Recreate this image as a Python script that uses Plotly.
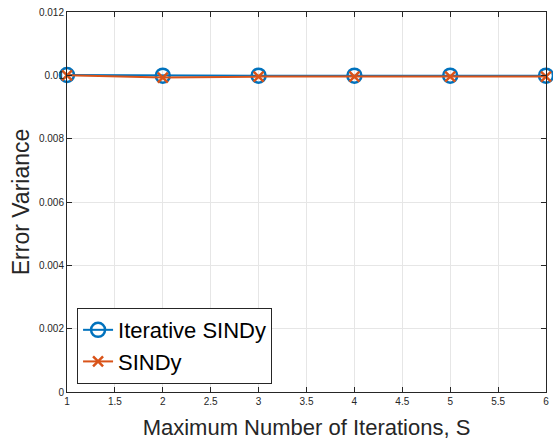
import plotly.graph_objects as go

iterations = [1, 2, 3, 4, 5, 6]
iterative_sindy = [0.01001, 0.00999, 0.00999, 0.00999, 0.00999, 0.00999]
sindy = [0.01000, 0.00993, 0.00996, 0.00996, 0.00996, 0.00996]
y_ticks = [0, 0.002, 0.004, 0.006, 0.008, 0.01, 0.012]
y_labels = ["0", "0.002", "0.004", "0.006", "0.008", "0.01", "0.012"]
x_ticks = [1, 1.5, 2, 2.5, 3, 3.5, 4, 4.5, 5, 5.5, 6]

fig = go.Figure()
fig.add_trace(go.Scatter(
    x=iterations, y=iterative_sindy, name="Iterative SINDy", mode="lines+markers",
    line=dict(color="#0072BD", width=2),
    marker=dict(symbol="circle-open", size=14, line=dict(width=2.5, color="#0072BD")),
    cliponaxis=False,
))
fig.add_trace(go.Scatter(
    x=iterations, y=sindy, name="SINDy", mode="lines+markers",
    line=dict(color="#D95319", width=2),
    marker=dict(symbol="x-thin-open", size=10, line=dict(width=2.5, color="#D95319")),
    cliponaxis=False,
))

axis_common = dict(
    showline=True, linecolor="#262626", linewidth=1, mirror="ticks",
    ticks="inside", ticklen=5, tickcolor="#262626",
    showgrid=True, gridcolor="#E6E6E6", gridwidth=1, zeroline=False,
    ticklabeloverflow="allow",
    tickfont=dict(family="Liberation Sans, Arial", size=10, color="#262626"),
)
fig.update_xaxes(
    range=[1, 6], tickvals=x_ticks, ticktext=[f"{v:g}" for v in x_ticks],
    title=dict(text="Maximum Number of Iterations, S", standoff=13,
               font=dict(family="Liberation Sans, Arial", size=22, color="#262626")),
    **axis_common,
)
fig.update_yaxes(
    range=[0, 0.012], tickvals=y_ticks, ticktext=y_labels,
    title=dict(text="Error Variance", standoff=2,
               font=dict(family="Liberation Sans, Arial", size=23, color="#262626")),
    **axis_common,
)
fig.update_layout(
    width=553, height=441,
    margin=dict(l=67, r=4, t=12, b=49),
    paper_bgcolor="white", plot_bgcolor="white",
    legend=dict(
        x=0.021, y=0.021, xanchor="left", yanchor="bottom",
        bgcolor="white", bordercolor="#262626", borderwidth=1,
        font=dict(family="Liberation Sans, Arial", size=22, color="black"),
        tracegroupgap=0, itemwidth=30,
    ),
    showlegend=True,
)
fig.write_html("out.html", config={"displayModeBar": False},
               post_script="document.body.style.margin='0';")
